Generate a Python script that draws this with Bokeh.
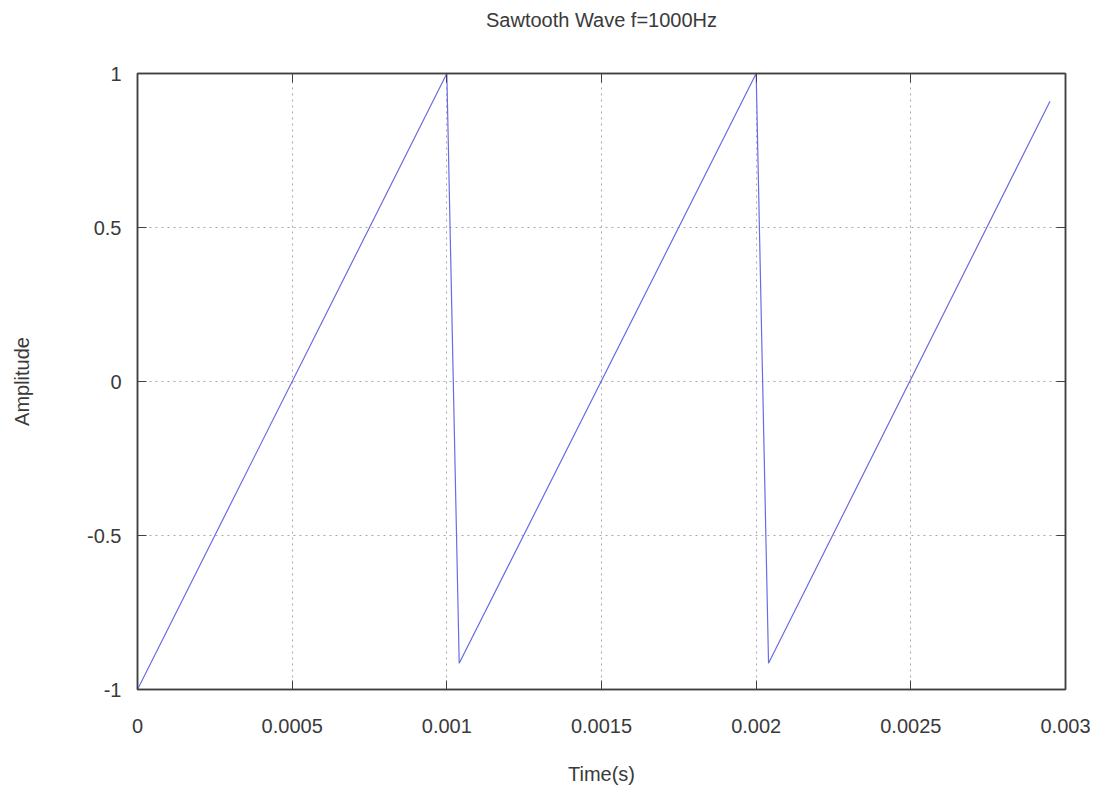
from bokeh.plotting import figure
from bokeh.models import Range1d, FixedTicker, LinearAxis
from bokeh.embed import file_html
from bokeh.resources import INLINE

# Data (vertices of the sampled sawtooth)
time_s = [0.0, 0.001, 0.00104, 0.002, 0.00204, 0.00295]
amplitude = [-1.0, 1.0, -0.915, 1.0, -0.915, 0.91]

x_ticks = [0.0, 0.0005, 0.001, 0.0015, 0.002, 0.0025, 0.003]
x_tick_labels = ["0", "0.0005", "0.001", "0.0015", "0.002", "0.0025", "0.003"]
y_ticks = [-1.0, -0.5, 0.0, 0.5, 1.0]
y_tick_labels = ["-1", "-0.5", "0", "0.5", "1"]

title_text = "Sawtooth Wave f=1000Hz"
x_label = "Time(s)"
y_label = "Amplitude"

FONT = "Liberation Sans"
FS = "20px"
TXT = "#3a3a3a"
BORDER = "#404040"

p = figure(width=1101, height=794, x_range=Range1d(0, 0.003), y_range=Range1d(-1, 1),
           output_backend="svg", toolbar_location=None,
           min_border_left=137, min_border_right=36, min_border_top=73, min_border_bottom=105,
           x_axis_location=None, y_axis_location=None)
p.background_fill_color = "white"
p.border_fill_color = "white"
p.outline_line_color = BORDER
p.outline_line_width = 1.5

def style_axis(ax, ticks, labels, show_labels):
    ax.ticker = FixedTicker(ticks=ticks)
    ax.major_label_overrides = {t: l for t, l in zip(ticks, labels)}
    ax.major_tick_in = 9
    ax.major_tick_out = 0
    ax.minor_tick_in = 0
    ax.minor_tick_out = 0
    ax.major_tick_line_color = BORDER
    ax.axis_line_color = BORDER
    ax.axis_line_width = 1.5
    ax.major_label_text_font = FONT
    ax.major_label_text_font_size = FS
    ax.major_label_text_color = TXT if show_labels else None
    ax.axis_label_text_font = FONT
    ax.axis_label_text_font_size = FS
    ax.axis_label_text_font_style = "normal"
    ax.axis_label_text_color = TXT

# top axis: mirrored inward ticks, carries the chart title as its label
xt = LinearAxis(axis_label=title_text)
style_axis(xt, x_ticks, x_tick_labels, False)
xt.major_label_text_font_size = "1px"
xt.major_label_standoff = 0
xt.axis_label_standoff = 43
p.add_layout(xt, "above")

xb = LinearAxis(axis_label=x_label)
style_axis(xb, x_ticks, x_tick_labels, True)
xb.major_label_standoff = 29
xb.axis_label_standoff = 27
p.add_layout(xb, "below")

yl = LinearAxis(axis_label=y_label)
style_axis(yl, y_ticks, y_tick_labels, True)
yl.major_label_standoff = 16
yl.axis_label_standoff = 51
yl.major_label_orientation = "horizontal"
p.add_layout(yl, "left")

yr = LinearAxis()
style_axis(yr, y_ticks, y_tick_labels, False)
yr.major_label_text_font_size = "1px"
p.add_layout(yr, "right")

p.xgrid.ticker = FixedTicker(ticks=x_ticks)
p.ygrid.ticker = FixedTicker(ticks=y_ticks)
for g in (p.xgrid, p.ygrid):
    g.grid_line_color = "#a8a8a8"
    g.grid_line_dash = "2 4"
    g.grid_line_width = 1

p.line(time_s, amplitude, line_color="#6a6ae6", line_width=1.2)

open("out.html", "w").write(file_html(p, INLINE))
